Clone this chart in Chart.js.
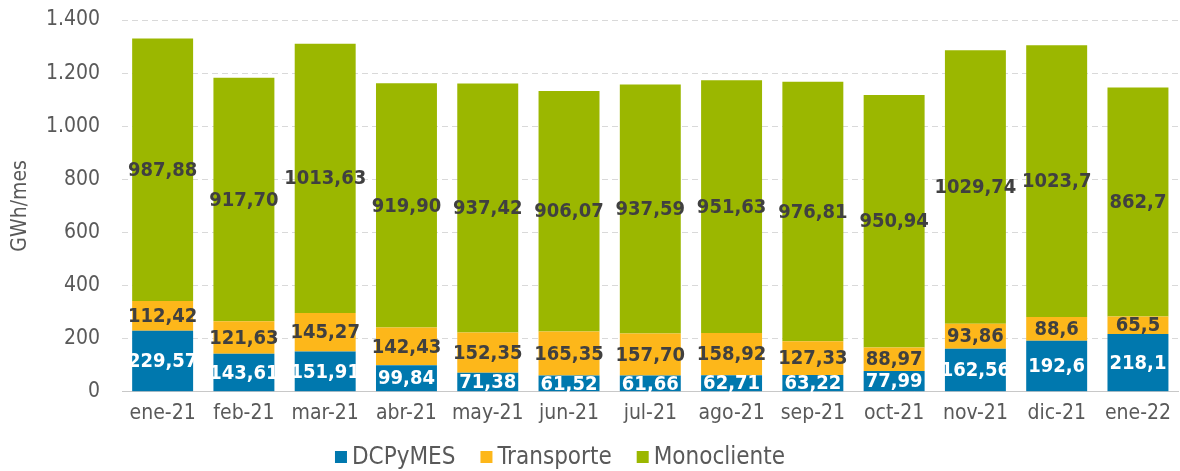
<!DOCTYPE html>
<html lang="es">
<head>
    <meta charset="UTF-8">
    <title>Energía por mes</title>
    <script src="https://cdn.jsdelivr.net/npm/chart.js"></script>
    <style>
        html, body { margin: 0; padding: 0; background: #fff; }
        .wrap { width: 1180px; height: 471px; }
    </style>
</head>
<body>
<div class="wrap"><canvas id="chart" width="1180" height="471"></canvas></div>

<script>
    const meses = ['ene-21', 'feb-21', 'mar-21', 'abr-21', 'may-21', 'jun-21', 'jul-21',
                   'ago-21', 'sep-21', 'oct-21', 'nov-21', 'dic-21', 'ene-22'];

    // valores tal como aparecen en las etiquetas
    const dcpymes = ['229,57', '143,61', '151,91', '99,84', '71,38', '61,52', '61,66',
                     '62,71', '63,22', '77,99', '162,56', '192,6', '218,1'];
    const transporte = ['112,42', '121,63', '145,27', '142,43', '152,35', '165,35', '157,70',
                        '158,92', '127,33', '88,97', '93,86', '88,6', '65,5'];
    const monocliente = ['987,88', '917,70', '1013,63', '919,90', '937,42', '906,07', '937,59',
                         '951,63', '976,81', '950,94', '1029,74', '1023,7', '862,7'];

    const yTicks = [0, 200, 400, 600, 800, 1000, 1200, 1400];

    const num = s => parseFloat(s.replace(',', '.'));
    const miles = v => String(v).replace(/\B(?=(\d{3})+(?!\d))/g, '.');

    const FONT = "'DejaVu Sans Condensed', 'DejaVu Sans', sans-serif";
    const GRIS = '#595959';

    // etiquetas dentro de las barras
    const etiquetas = {
        id: 'etiquetas',
        afterDatasetsDraw(chart) {
            const ctx = chart.ctx;
            ctx.save();
            ctx.font = 'bold 20px ' + FONT;
            ctx.textAlign = 'center';
            ctx.textBaseline = 'middle';
            chart.data.datasets.forEach((ds, i) => {
                const meta = chart.getDatasetMeta(i);
                ctx.fillStyle = i === 0 ? '#ffffff' : '#404040';
                meta.data.forEach((bar, j) => {
                    const p = bar.getProps(['x', 'y', 'base'], true);
                    ctx.fillText(ds.textos[j], p.x, (p.y + p.base) / 2 + 1);
                });
            });
            ctx.restore();
        }
    };

    // leyenda inferior, algo desplazada a la izquierda como en el original
    const leyenda = {
        id: 'leyenda',
        afterDraw(chart) {
            const ctx = chart.ctx;
            ctx.save();
            ctx.font = '24px ' + FONT;
            ctx.textBaseline = 'middle';
            const caja = 12, hueco = 5, sep = 25, cy = 457;
            const items = chart.data.datasets.map(ds => ({
                texto: ds.label, color: ds.backgroundColor, ancho: ctx.measureText(ds.label).width
            }));
            const total = items.reduce((s, it) => s + caja + hueco + it.ancho, 0) + sep * (items.length - 1);
            let x = 560 - total / 2;
            items.forEach(it => {
                ctx.fillStyle = it.color;
                ctx.fillRect(x, cy - caja / 2, caja, caja);
                ctx.fillStyle = GRIS;
                ctx.fillText(it.texto, x + caja + hueco, cy + 1);
                x += caja + hueco + it.ancho + sep;
            });
            ctx.restore();
        }
    };

    new Chart(document.getElementById('chart'), {
        type: 'bar',
        data: {
            labels: meses,
            datasets: [
                { label: 'DCPyMES', data: dcpymes.map(num), textos: dcpymes, backgroundColor: '#0078ae' },
                { label: 'Transporte', data: transporte.map(num), textos: transporte, backgroundColor: '#fdb71a' },
                { label: 'Monocliente', data: monocliente.map(num), textos: monocliente, backgroundColor: '#9bb700' }
            ]
        },
        options: {
            responsive: false,
            animation: false,
            datasets: { bar: { categoryPercentage: 1, barPercentage: 0.75 } },
            layout: { padding: { top: 0, right: 0, left: 8, bottom: 36 } },
            plugins: {
                legend: { display: false },
                tooltip: { enabled: false }
            },
            scales: {
                x: {
                    stacked: true,
                    grid: { display: false, drawTicks: false },
                    border: { display: true, color: '#c8c8c8', width: 1 },
                    ticks: { font: { family: FONT, size: 21 }, color: GRIS, padding: 9 }
                },
                y: {
                    stacked: true,
                    min: 0,
                    max: 1400,
                    afterBuildTicks: axis => { axis.ticks = yTicks.map(v => ({ value: v })); },
                    afterFit: axis => {
                        axis.width = 114;
                        axis.paddingTop = 20;
                        axis.paddingBottom = 0;
                    },
                    grid: { color: '#d9d9d9', drawTicks: false },
                    border: { display: false, dash: [6, 4] },
                    ticks: {
                        font: { family: FONT, size: 21 },
                        color: GRIS,
                        padding: 22,
                        callback: v => miles(v)
                    },
                    title: {
                        display: true,
                        text: 'GWh/mes',
                        font: { family: FONT, size: 21 },
                        color: GRIS,
                        padding: { top: 0, bottom: 0 }
                    }
                }
            }
        },
        plugins: [etiquetas, leyenda]
    });
</script>
</body>
</html>
